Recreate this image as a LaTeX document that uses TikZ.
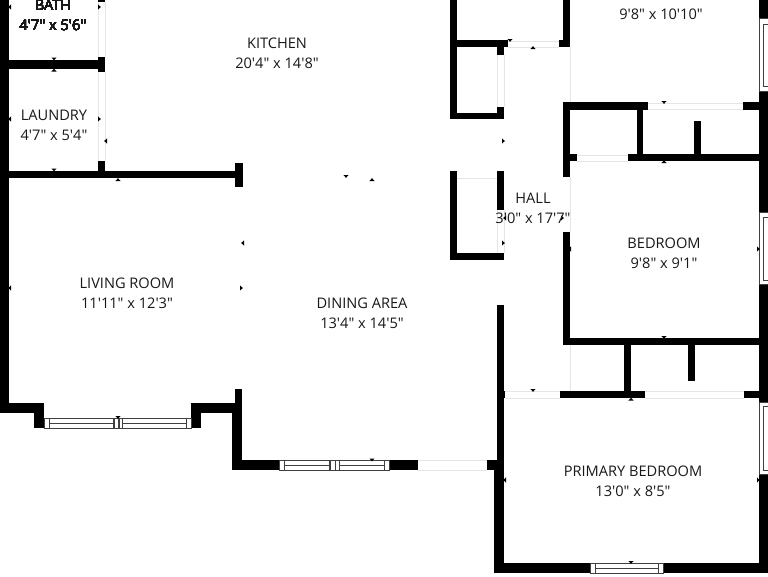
\documentclass[tikz,border=0pt]{standalone}
\usepackage{fontspec}
\newfontfamily\planfont{Open Sans}
\tikzset{%
  wall/.style      = {fill=black,draw=none},%
  gapline/.style   = {draw=black!10,line width=.7pt},%
  glazing/.style   = {draw=black!75,line width=.7pt,fill=white},%
  roomlabel/.style = {align=center,font=\planfont\fontsize{14.6}{20}\selectfont,
                      text=black!90,inner sep=0pt},%
  tick/.style      = {fill=black}%
}
\newcommand{\marker}[3]{\fill[tick,shift={(#1,#2)},rotate=#3] (-2.6,0) -- (2.6,0) -- (0,2.8) -- cycle;}
\begin{document}
\begin{tikzpicture}[x=1pt,y=-1pt]
	\useasboundingbox (0,0) rectangle (768,576);
	\fill[white] (0,0) rectangle (768,576);
	% outer walls
	\foreach \xa/\ya/\xb/\yb in {0/0/9/413,0/403/44/413,34/403/44/428,191/403/201/428,%
		191/403/242/413,232/403/242/470,235/389/242/403,232/460/279/470,389/460/418/470,%
		487/460/504/470,497/305/504/470,494/460/504/573,494/563/590/573,663/563/768/573,%
		759/0/768/18,759/91/768/212,759/284/768/402,759/474/768/573}%
		\fill[wall] (\xa,\ya) rectangle (\xb,\yb);
	% inner walls, left side
	\foreach \xa/\ya/\xb/\yb in {9/60/98/69,98/57/105/72,98/0/105/2,98/161/105/177,%
		9/171/235/178,235/163/243/187}%
		\fill[wall] (\xa,\ya) rectangle (\xb,\yb);
	% closets
	\foreach \xa/\ya/\xb/\yb in {450/0/457/119,450/40/508/47,497/47/504/55,497/107/504/119,%
		450/113/504/119,450/171/457/260,450/253/504/260,497/171/504/210}%
		\fill[wall] (\xa,\ya) rectangle (\xb,\yb);
	% inner walls, bedrooms
	\foreach \xa/\ya/\xb/\yb in {563/0/570/47,559/40/570/47,563/102/648/110,743/102/768/110,%
		563/102/570/177,637/110/643/155,694/121/701/155,563/154/577/161,628/154/768/161,%
		563/232/570/345,563/338/768/345,624/345/631/391,688/345/695/381,560/391/645/398,%
		744/391/768/398,497/391/505/398}%
		\fill[wall] (\xa,\ya) rectangle (\xb,\yb);
	% openings
	\foreach \xa/\ya/\xb/\yb in {98/2/98/57,105/2/105/57,98/72/98/161,105/72/105/161,%
		508/41/559/41,508/47/559/47,497/55/497/107,504/55/504/107,570/47/570/102,%
		648/103/743/103,648/109/743/109,577/155/628/155,577/161/628/161,570/177/570/232,%
		457/178/497/178,497/210/497/253,504/210/504/253,418/460/487/460,418/470/487/470,%
		505/391/560/391,505/398/560/398,645/391/744/391,645/398/744/398,570/345/570/391}%
		\draw[gapline] (\xa,\ya) -- (\xb,\yb);
	% windows along the bottom
	\foreach \xa/\xb/\yt in {44/191/418,279/389/460,590/663/563}%
		\draw[glazing] (\xa,\yt) rectangle (\xb,\yt+10);
	\foreach \xa/\xb/\yt in {49/113/418,122/186/418,284/329/460,339/384/460,595/658/563}%
		\draw[glazing] (\xa,\yt) rectangle (\xb,\yt+10) (\xa,\yt+5) -- (\xb,\yt+5);
	\foreach \xa in {114,118,119,330,335}%
		\draw[glazing] (\xa,{\xa<200 ? 418 : 460}) -- +(0,10);
	% windows on the right
	\foreach \ya/\yb in {18/91,212/284,402/474}%
		\draw[glazing] (768,\ya) -- (759,\ya) -- (759,\yb) -- (768,\yb);
	\foreach \ya/\yb in {24/86,217/280,406/470}%
		\draw[glazing] (768,\ya) -- (763.5,\ya) -- (763.5,\yb) -- (768,\yb);
	% dimension markers
	\foreach \mx/\my/\mr in {11/7/-90,98/7/90,54/57.5/0,54/71.5/180,11/119/-90,98/119/90,%
		107/141/-90,54/168.5/0,118/181/180,346/175/0,372/181/180,244/243/-90,240/288/90,%
		11/288/-90,118/416/0,372/458.5/0,510/39/0,533/49/180,502/141/90,502/243/90,%
		506/218/-90,561/218/90,571/249/-90,757/249/90,664/101/0,664/163/180,664/336/0,%
		631/400.5/180,533/389/0,506/480/-90,757/480/90,631/561/0}%
		\marker{\mx}{\my}{\mr}
	% first run of text comes out heavy, so let it be a blank glyph
	\pgftext[at={\pgfpoint{300pt}{-300pt}}]{\planfont\fontsize{14.6}{20}\selectfont\XeTeXglyph3}
	% room labels
	\node[roomlabel] (bath)    at (53,15.8) {BATH\\4'7" x 5'6"};
	\node[roomlabel] (laundry) at (54,125.5) {LAUNDRY\\4'7" x 5'4"};
	\node[roomlabel] (kitchen) at (277,53)  {KITCHEN\\20'4" x 14'8"};
	\node[roomlabel] (living)  at (127,293.5) {LIVING ROOM\\11'11" x 12'3"};
	\node[roomlabel] (dining)  at (362,313) {DINING AREA\\13'4" x 14'5"};
	\node[roomlabel] (hall)    at (533,208) {HALL\\3'0" x 17'7"};
	\node[roomlabel] (bedtop)  at (661,14)  {9'8" x 10'10"};
	\node[roomlabel] (bedmid)  at (664,253.5) {BEDROOM\\9'8" x 9'1"};
	\node[roomlabel] (primary) at (633,481) {PRIMARY BEDROOM\\13'0" x 8'5"};
\end{tikzpicture}
\end{document}
